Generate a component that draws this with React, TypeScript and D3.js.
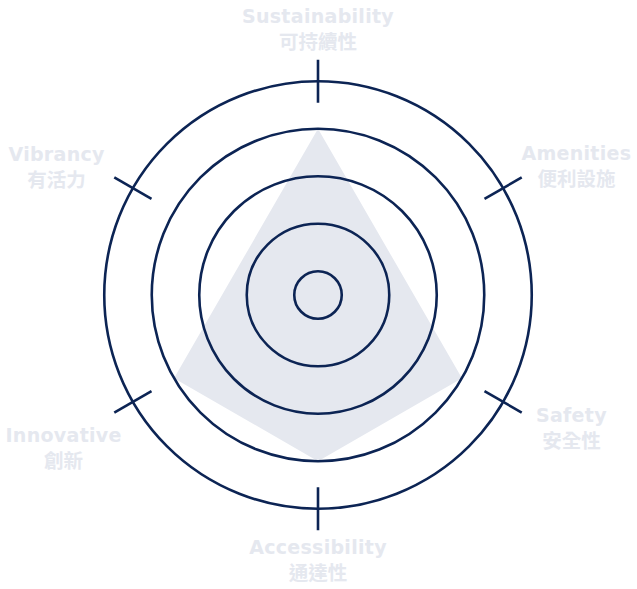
import * as d3 from 'd3';

const axesEn = ['Sustainability', 'Amenities', 'Safety', 'Accessibility', 'Innovative', 'Vibrancy'];
const axesZh = ['可持續性', '便利設施', '安全性', '通達性', '創新', '有活力'];
const values = [7, 3.5, 7, 7, 7, 3.5];
const rings = [1, 3, 5, 7, 9];

const W = 637;
const H = 589;
const cx = 318;
const cy = 295;
const navy = '#0c2454';
const pale = '#e5e8ef';

// small hand nudges for the labels (layout only)
const labelNudge: [number, number][] = [
  [0, -3],
  [2, 3],
  [-3, 3],
  [0, 4],
  [2, 23],
  [-5, 4],
];

export default function App() {
  const r = d3.scaleLinear().domain([0, 10]).range([0, 237.5]);
  const angle = (i: number) => (i / axesEn.length) * Math.PI * 2;

  const line = d3
    .lineRadial<number>()
    .angle((_, i) => angle(i))
    .radius((d) => r(d))
    .curve(d3.curveLinearClosed);

  // point at radius for axis i, relative to center
  const pt = (i: number, rad: number) => {
    const a = angle(i) - Math.PI / 2;
    return [Math.cos(a) * rad, Math.sin(a) * rad];
  };

  return (
    <svg width={W} height={H} style={{ position: 'absolute', left: 0, top: 0 }}>
      <g transform={`translate(${cx},${cy})`}>
        <path d={line(values) ?? ''} fill={pale} />
        {rings.map((v) => (
          <circle key={v} r={r(v)} fill="none" stroke={navy} strokeWidth={2.6} />
        ))}
        {axesEn.map((_, i) => {
          const [x1, y1] = pt(i, r(9) - 21.5);
          const [x2, y2] = pt(i, r(9) + 21.5);
          return (
            <line key={i} x1={x1} y1={y1} x2={x2} y2={y2} stroke={navy} strokeWidth={2.6} />
          );
        })}
        {axesEn.map((name, i) => {
          const [bx, by] = pt(i, 262);
          const x = bx * 1.13 + labelNudge[i][0];
          const y = by + labelNudge[i][1];
          return (
            <text key={name} textAnchor="middle" fill={pale} fontWeight={700}>
              <tspan
                x={x}
                y={y - 7}
                fontFamily="'DejaVu Sans', sans-serif"
                fontSize={19}
                letterSpacing={0.3}
              >
                {name}
              </tspan>
              <tspan
                x={x}
                y={y + 18.5}
                fontFamily="'Noto Sans CJK TC', sans-serif"
                fontSize={19.5}
              >
                {axesZh[i]}
              </tspan>
            </text>
          );
        })}
      </g>
    </svg>
  );
}
